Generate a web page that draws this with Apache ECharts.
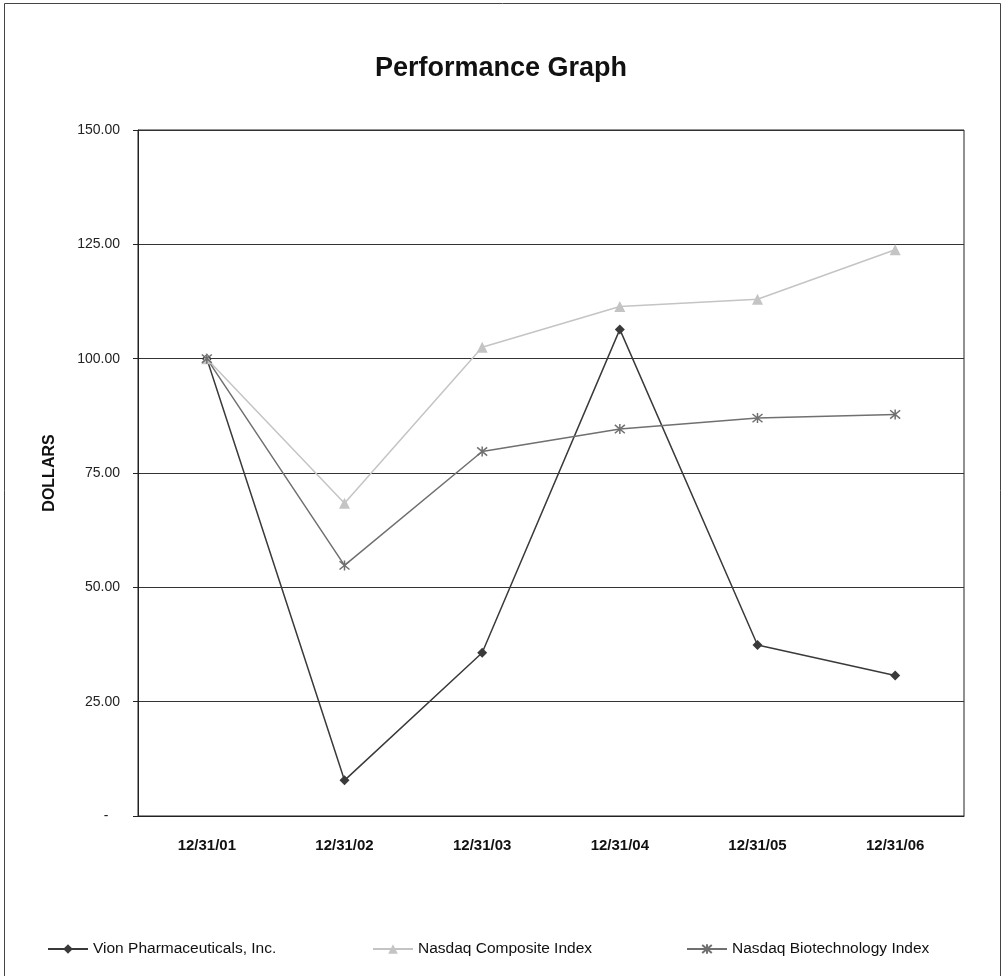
<!DOCTYPE html>
<html>
<head>
<meta charset="utf-8">
<script src="https://cdn.jsdelivr.net/npm/echarts@6/dist/echarts.min.js"></script>
<style>
  html, body { margin: 0; padding: 0; background: #fff; }
  #main { width: 1002px; height: 976px; }
</style>
</head>
<body>
<div id="main"></div>
<script>
var categories = ['12/31/01', '12/31/02', '12/31/03', '12/31/04', '12/31/05', '12/31/06'];
var vionValues = [100, 7.8, 35.7, 106.4, 37.4, 30.7];
var compositeValues = [100, 68.4, 102.5, 111.4, 113.0, 123.8];
var biotechValues = [100, 54.8, 79.7, 84.6, 87.0, 87.8];
var seriesNames = ['Vion Pharmaceuticals, Inc.', 'Nasdaq Composite Index', 'Nasdaq Biotechnology Index'];

// Excel style star marker: an X with a vertical bar
var asterisk = 'path://M0,0L10,10M10,0L0,10M5,-1L5,11';

var myChart = echarts.init(document.getElementById('main'));

var legendText = { fontFamily: 'Liberation Sans', fontSize: 15.5, color: '#111' };
function legendAt(left, name) {
    return {
        top: 941,
        left: left,
        itemWidth: 40,
        itemHeight: 12,
        itemGap: 0,
        padding: 0,
        textStyle: legendText,
        data: [name]
    };
}

var option = {
    backgroundColor: '#fff',
    animation: false,
    title: {
        text: 'Performance Graph',
        left: 'center',
        top: 50,
        textStyle: { fontFamily: 'Liberation Sans', fontSize: 27, fontWeight: 'bold', color: '#111' }
    },
    graphic: [{
        type: 'rect',
        shape: { x: 4.5, y: 3.5, width: 996, height: 990 },
        style: { fill: 'none', stroke: '#444', lineWidth: 1 },
        silent: true
    }],
    legend: [
        legendAt(47, seriesNames[0]),
        legendAt(372, seriesNames[1]),
        legendAt(686, seriesNames[2])
    ],
    grid: {
        left: 138,
        right: 38,
        top: 130,
        bottom: 160,
        show: true,
        borderColor: '#222',
        borderWidth: 1
    },
    xAxis: {
        type: 'category',
        data: categories,
        boundaryGap: true,
        axisLine: { show: true, lineStyle: { color: '#222' } },
        axisTick: { show: false },
        axisLabel: {
            margin: 22,
            fontFamily: 'Liberation Sans',
            fontSize: 15,
            fontWeight: 'bold',
            color: '#111'
        }
    },
    yAxis: {
        type: 'value',
        min: 0,
        max: 150,
        interval: 25,
        name: 'DOLLARS',
        nameLocation: 'middle',
        nameGap: 80,
        nameRotate: 90,
        nameTextStyle: { fontFamily: 'Liberation Sans', fontSize: 16, fontWeight: 'bold', color: '#111' },
        axisLine: { show: true, lineStyle: { color: '#222' } },
        axisTick: { show: true, length: 5, lineStyle: { color: '#222' } },
        axisLabel: {
            margin: 18,
            fontFamily: 'Liberation Sans',
            fontSize: 14,
            color: '#222',
            formatter: function (v) { return v === 0 ? '-   ' : v.toFixed(2); }
        },
        splitLine: { show: true, lineStyle: { color: '#333', width: 1 } }
    },
    series: [{
        name: seriesNames[0],
        type: 'line',
        data: vionValues,
        symbol: 'diamond',
        symbolSize: 10,
        itemStyle: { color: '#3a3a3a' },
        lineStyle: { color: '#3a3a3a', width: 1.5 }
    }, {
        name: seriesNames[1],
        type: 'line',
        data: compositeValues,
        symbol: 'triangle',
        symbolSize: 11,
        itemStyle: { color: '#c4c4c4' },
        lineStyle: { color: '#c4c4c4', width: 1.5 }
    }, {
        name: seriesNames[2],
        type: 'line',
        data: biotechValues,
        symbol: asterisk,
        symbolSize: 10,
        itemStyle: { color: 'none', borderColor: '#707070', borderWidth: 1.5 },
        lineStyle: { color: '#707070', width: 1.5 }
    }]
};

myChart.setOption(option);
</script>
</body>
</html>
